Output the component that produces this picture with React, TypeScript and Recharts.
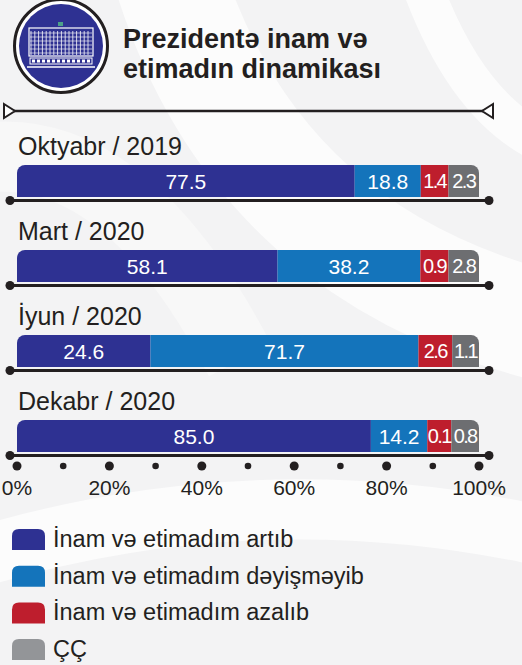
import React from 'react';
import { BarChart, Bar, XAxis, YAxis, LabelList } from 'recharts';

const ROWS = ['Oktyabr / 2019', 'Mart / 2020', 'İyun / 2020', 'Dekabr / 2020'];
const SERIES = ['İnam və etimadım artıb', 'İnam və etimadım dəyişməyib', 'İnam və etimadım azalıb', 'ÇÇ'];

// values printed on the bars
const ARTIB = [77.5, 58.1, 24.6, 85.0];
const DEYISMEYIB = [18.8, 38.2, 71.7, 14.2];
const AZALIB = [1.4, 0.9, 2.6, 0.1];
const CC = [2.3, 2.8, 1.1, 0.8];

// segment lengths as drawn in the source (small shares are widened there)
const ARTIB_DRAWN = [73.1, 56.4, 28.9, 76.6];
const DEYISMEYIB_DRAWN = [14.3, 30.9, 58.0, 12.2];
const AZALIB_DRAWN = [6.0, 6.1, 7.3, 5.2];
const CC_DRAWN = [6.6, 6.6, 5.8, 6.0];

const TICKS = [0, 10, 20, 30, 40, 50, 60, 70, 80, 90, 100];

const BAR_COLORS = ['#2e3192', '#1474bb', '#be1e2d', '#6d6e71'];
const LEGEND_COLORS = ['#2e3192', '#1474bb', '#be1e2d', '#939598'];
const INK = '#231f20';
const FONT = '"Liberation Sans", Arial, "DejaVu Sans", sans-serif';

const data = ROWS.map((row, i) => ({
  row,
  a: ARTIB_DRAWN[i],
  b: DEYISMEYIB_DRAWN[i],
  c: AZALIB_DRAWN[i],
  d: CC_DRAWN[i],
  aLabel: ARTIB[i].toFixed(1),
  bLabel: DEYISMEYIB[i].toFixed(1),
  cLabel: AZALIB[i].toFixed(1),
  dLabel: CC[i].toFixed(1),
}));

const KEYS = ['a', 'b', 'c', 'd'];

function RowTick(props: any) {
  const { y, payload } = props;
  const ly = y + 20;
  return (
    <g>
      <text x={18} y={y - 26} fontSize={25} fill={INK} fontFamily={FONT}>
        {payload.value}
      </text>
      <line x1={10} x2={489} y1={ly} y2={ly} stroke={INK} strokeWidth={3} />
      <circle cx={10} cy={ly} r={4.5} fill={INK} />
      <circle cx={489} cy={ly} r={4.5} fill={INK} />
    </g>
  );
}

function PercentTick(props: any) {
  const { x, y, payload } = props;
  const major = payload.value % 20 === 0;
  return (
    <g>
      <circle cx={x} cy={y - 12} r={major ? 4.5 : 3.3} fill={INK} />
      {major && (
        <text x={x} y={y + 17} textAnchor="middle" fontSize={21} fill={INK} fontFamily={FONT}>
          {payload.value}%
        </text>
      )}
    </g>
  );
}

// narrow segments get squeezed text, like the source
function SegmentLabel(props: any) {
  const { x, y, width, height, value } = props;
  const narrow = width < 34;
  return (
    <text
      x={x + width / 2}
      y={y + height / 2}
      dy="0.36em"
      textAnchor="middle"
      fill="#fff"
      fontSize={narrow ? 20 : 21}
      letterSpacing={narrow ? -1.6 : 0}
      fontFamily={FONT}
    >
      {value}
    </text>
  );
}

function Logo() {
  const cols = [];
  for (let i = 0; i < 16; i++) {
    const x = 31 + i * 3.8;
    cols.push(<line key={i} x1={x} x2={x} y1={31} y2={55} stroke="#fff" strokeWidth={0.8} />);
  }
  const rows = [];
  for (let j = 0; j < 6; j++) {
    const y = 33 + j * 4;
    rows.push(<line key={j} x1={30} x2={92} y1={y} y2={y} stroke="#fff" strokeWidth={0.6} />);
  }
  return (
    <g>
      <circle cx={61} cy={46} r={46.5} fill="#fff" stroke={INK} strokeWidth={3} />
      <circle cx={61} cy={46} r={42} fill="#2e3192" />
      <rect x={29} y={28} width={64} height={28} fill="none" stroke="#fff" strokeWidth={1.2} />
      {cols}
      {rows}
      <rect x={58} y={22} width={5} height={4} fill="#4ca08a" />
      <rect x={30} y={58} width={62} height={6} fill="none" stroke="#fff" strokeWidth={1} />
      {[0, 1, 2, 3, 4, 5, 6, 7, 8, 9, 10, 11].map((k) => (
        <rect key={k} x={32 + k * 5} y={59.5} width={3} height={3} fill="#fff" />
      ))}
      <line x1={27} x2={95} y1={67} y2={67} stroke="#fff" strokeWidth={1.5} />
    </g>
  );
}

function Backdrop() {
  return (
    <svg width={522} height={665} style={{ position: 'absolute', left: 0, top: 0 }}>
      <rect width={522} height={665} fill="#f3f3f4" />
      <path d="M 170 -20 Q 260 260 560 330" stroke="#fcfcfc" strokeWidth={110} fill="none" />
      <path d="M 420 -20 Q 470 120 560 150" stroke="#fcfcfc" strokeWidth={40} fill="none" />
      <path d="M -30 560 Q 260 470 560 540" stroke="#fcfcfc" strokeWidth={60} fill="none" />
      <path d="M -30 160 Q 120 130 240 360" stroke="#f8f8f8" strokeWidth={70} fill="none" />
      <Logo />
      <text x={123} y={48} fontSize={27} fontWeight="bold" fill={INK} fontFamily={FONT}>
        Prezidentə inam və
      </text>
      <text x={123} y={78} fontSize={27} fontWeight="bold" fill={INK} fontFamily={FONT}>
        etimadın dinamikası
      </text>
      <line x1={8} x2={489} y1={111} y2={111} stroke={INK} strokeWidth={2.5} />
      <polygon points="4,104 15,111 4,118" fill="#fff" stroke={INK} strokeWidth={2} />
      <polygon points="493,104 482,111 493,118" fill="#fff" stroke={INK} strokeWidth={2} />
      {SERIES.map((name, i) => {
        const top = 529 + i * 36.7;
        return (
          <g key={name}>
            <path
              d={`M 12 ${top + 21} L 12 ${top + 7} Q 12 ${top} 19 ${top} L 38 ${top} Q 45 ${top} 45 ${top + 7} L 45 ${top + 21} Z`}
              fill={LEGEND_COLORS[i]}
            />
            <text x={53} y={top + 18} fontSize={23.5} fill={INK} fontFamily={FONT}>
              {name}
            </text>
          </g>
        );
      })}
    </svg>
  );
}

export default function App() {
  return (
    <div style={{ position: 'absolute', left: 0, top: 0, width: 522, height: 665, overflow: 'hidden' }}>
      <Backdrop />
      <div style={{ position: 'absolute', left: 0, top: 120 }}>
        <BarChart
          layout="vertical"
          width={522}
          height={385}
          data={data}
          margin={{ top: 18, right: 43, bottom: 0, left: 0 }}
          barSize={32}
        >
          <XAxis
            type="number"
            domain={[0, 100]}
            ticks={TICKS}
            interval={0}
            height={27}
            axisLine={false}
            tickLine={false}
            tickSize={0}
            tickMargin={0}
            tick={<PercentTick />}
          />
          <YAxis
            type="category"
            dataKey="row"
            width={17}
            axisLine={false}
            tickLine={false}
            interval={0}
            tick={<RowTick />}
          />
          {KEYS.map((k, i) => (
            <Bar
              key={k}
              dataKey={k}
              stackId="s"
              fill={BAR_COLORS[i]}
              isAnimationActive={false}
              radius={i === 0 ? [8, 0, 0, 0] : i === 3 ? [0, 8, 0, 0] : 0}
            >
              <LabelList dataKey={`${k}Label`} content={<SegmentLabel />} />
            </Bar>
          ))}
        </BarChart>
      </div>
    </div>
  );
}
